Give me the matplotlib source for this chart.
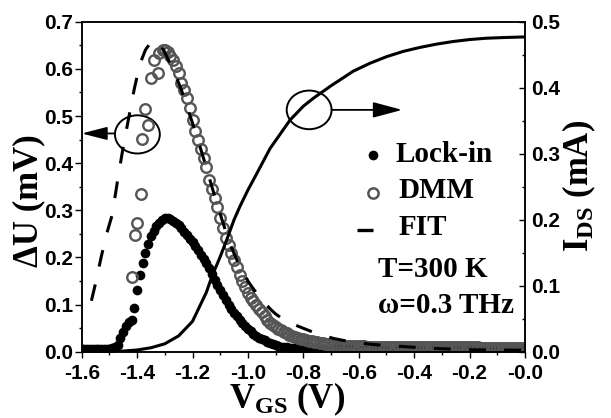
import numpy as np
import matplotlib.pyplot as plt
from matplotlib.patches import Ellipse

plt.rcParams['font.family'] = ['Liberation Sans', 'DejaVu Sans']
plt.rcParams['font.weight'] = 'bold'
plt.rcParams['axes.unicode_minus'] = False
plt.rcParams['mathtext.fontset'] = 'custom'
plt.rcParams['mathtext.rm'] = 'Liberation Serif:bold'
plt.rcParams['mathtext.bf'] = 'Liberation Serif:bold'
plt.rcParams['mathtext.it'] = 'Liberation Serif:italic:bold'

# lock-in signal, gate sweep -1.60 ... 0.00 V in 0.01 V steps
lock_v = np.round(np.arange(-1.60, 0.001, 0.01), 2)
lock_u = [0.005, 0.005, 0.005, 0.005, 0.005, 0.005, 0.005, 0.005, 0.005, 0.005,
          0.006, 0.007, 0.009, 0.015, 0.030, 0.042, 0.055, 0.062, 0.067, 0.092,
          0.130, 0.163, 0.188, 0.209, 0.228, 0.245, 0.257, 0.267, 0.274, 0.279,
          0.283, 0.283, 0.281, 0.278, 0.273, 0.268, 0.262, 0.255, 0.248, 0.240,
          0.232, 0.224, 0.215, 0.206, 0.197, 0.188, 0.177, 0.165, 0.153, 0.142,
          0.130, 0.120, 0.110, 0.100, 0.091, 0.082, 0.075, 0.068, 0.061, 0.055,
          0.049, 0.043, 0.038, 0.034, 0.030, 0.027, 0.024, 0.021, 0.018, 0.016,
          0.014, 0.012, 0.011, 0.010, 0.009, 0.008, 0.008, 0.007, 0.007, 0.007,
          0.006, 0.006, 0.006, 0.006, 0.005, 0.005, 0.005, 0.005, 0.005, 0.005,
          0.005, 0.005, 0.005, 0.005, 0.005, 0.005, 0.005, 0.005, 0.005, 0.005,
          0.004, 0.004, 0.004, 0.004, 0.004, 0.004, 0.004, 0.004, 0.004, 0.004,
          0.004, 0.004, 0.004, 0.004, 0.004, 0.004, 0.004, 0.004, 0.004, 0.004,
          0.004, 0.004, 0.004, 0.004, 0.004, 0.004, 0.004, 0.004, 0.004, 0.004,
          0.003, 0.003, 0.003, 0.003, 0.003, 0.003, 0.003, 0.003, 0.003, 0.003,
          0.003, 0.003, 0.003, 0.003, 0.003, 0.003, 0.003, 0.003, 0.003, 0.003,
          0.003, 0.003, 0.003, 0.003, 0.003, 0.003, 0.003, 0.003, 0.003, 0.003,
          0.003]

# DMM signal: scattered points on the rising edge, then 0.01 V steps from -1.30 V
dmm_rise_v = [-1.417, -1.409, -1.399, -1.386, -1.382, -1.370, -1.360, -1.351,
              -1.340, -1.326, -1.322, -1.306]
dmm_rise_u = [0.159, 0.248, 0.274, 0.335, 0.451, 0.515, 0.480, 0.581,
              0.619, 0.592, 0.633, 0.641]
dmm_fall_v = np.round(np.arange(-1.30, 0.001, 0.01), 2)
dmm_fall_u = [0.640, 0.636, 0.628, 0.618, 0.607, 0.592, 0.571, 0.555, 0.539, 0.518,
              0.492, 0.468, 0.449, 0.429, 0.410, 0.391, 0.364, 0.346, 0.326, 0.307,
              0.283, 0.262, 0.242, 0.226, 0.210, 0.195, 0.179, 0.163, 0.149, 0.138,
              0.125, 0.114, 0.107, 0.099, 0.091, 0.084, 0.076, 0.068, 0.060, 0.056,
              0.052, 0.049, 0.046, 0.042, 0.039, 0.036, 0.034, 0.032, 0.030, 0.028,
              0.026, 0.025, 0.023, 0.022, 0.021, 0.020, 0.019, 0.018, 0.017, 0.016,
              0.015, 0.014, 0.014, 0.013, 0.013, 0.013, 0.013, 0.012, 0.012, 0.012,
              0.012, 0.012, 0.012, 0.011, 0.011, 0.011, 0.011, 0.011, 0.011, 0.011,
              0.010, 0.010, 0.010, 0.010, 0.010, 0.010, 0.010, 0.010, 0.010, 0.010,
              0.010, 0.010, 0.010, 0.010, 0.010, 0.010, 0.009, 0.009, 0.009, 0.009,
              0.009, 0.009, 0.009, 0.009, 0.009, 0.009, 0.009, 0.009, 0.009, 0.009,
              0.009, 0.009, 0.009, 0.009, 0.008, 0.008, 0.008, 0.008, 0.008, 0.008,
              0.008, 0.008, 0.008, 0.008, 0.008, 0.008, 0.008, 0.008, 0.008, 0.008,
              0.008]

# fit curve
fit_v = [-1.565, -1.55, -1.53, -1.51, -1.49, -1.47, -1.45, -1.43, -1.41, -1.39,
         -1.37, -1.35, -1.335, -1.32, -1.30, -1.28, -1.26, -1.24, -1.22, -1.20,
         -1.18, -1.16, -1.14, -1.12, -1.10, -1.08, -1.06, -1.04, -1.02, -1.00,
         -0.98, -0.96, -0.94, -0.92, -0.90, -0.88, -0.85, -0.81, -0.75, -0.69,
         -0.63, -0.56, -0.50, -0.44, -0.38, -0.31, -0.25, -0.19, -0.10, 0.0]
fit_u = [0.108, 0.145, 0.200, 0.250, 0.290, 0.365, 0.435, 0.497, 0.558, 0.610,
         0.640, 0.657, 0.660, 0.655, 0.635, 0.610, 0.585, 0.555, 0.520, 0.485,
         0.448, 0.410, 0.370, 0.330, 0.292, 0.255, 0.222, 0.195, 0.171, 0.150,
         0.133, 0.118, 0.104, 0.091, 0.080, 0.072, 0.062, 0.052, 0.038, 0.028,
         0.021, 0.016, 0.013, 0.011, 0.0085, 0.0065, 0.005, 0.004, 0.0035, 0.003]

# drain current (right axis)
ids_v = [-1.55, -1.50, -1.45, -1.40, -1.35, -1.30, -1.25, -1.20, -1.15, -1.13,
         -1.10, -1.077, -1.05, -1.029, -1.00, -0.968, -0.92, -0.848, -0.80, -0.764,
         -0.70, -0.62, -0.56, -0.50, -0.44, -0.38, -0.32, -0.26, -0.20, -0.14,
         -0.08, 0.00]
ids_i = [0.0, 0.0005, 0.001, 0.0026, 0.006, 0.012, 0.024, 0.046, 0.090, 0.114,
         0.144, 0.169, 0.200, 0.220, 0.245, 0.270, 0.308, 0.351, 0.372, 0.384,
         0.403, 0.425, 0.437, 0.447, 0.455, 0.461, 0.466, 0.470, 0.473, 0.475,
         0.476, 0.477]

serif = 'Liberation Serif'

fig = plt.figure(figsize=(6.11, 4.18), dpi=100)
ax = fig.add_axes([0.1337, 0.1586, 0.7255, 0.7894])
ax2 = ax.twinx()

ax.plot(lock_v, lock_u, 'o', color='black', ms=7, mew=0)
ax.plot(dmm_rise_v, dmm_rise_u, 'o', mfc='none', mec='#555555', ms=7.6, mew=1.7)
ax.plot(dmm_fall_v, dmm_fall_u, 'o', mfc='none', mec='#555555', ms=7.6, mew=1.7)
ax.plot(fit_v, fit_u, color='black', lw=2.2, dashes=(5.5, 6))
ax2.plot(ids_v, ids_i, color='black', lw=2.2)

ax.set_xlim(-1.6, 0)
ax.set_ylim(0, 0.7)
ax2.set_ylim(0, 0.5)

xt = np.round(np.arange(-1.6, 0.01, 0.2), 1)
ax.set_xticks(xt)
ax.set_xticklabels(['%.1f' % v for v in xt])
ax.set_xticks(np.round(np.arange(-1.5, 0.0, 0.2), 1), minor=True)
yt = np.round(np.arange(0, 0.71, 0.1), 1)
ax.set_yticks(yt)
ax.set_yticklabels(['%.1f' % v for v in yt])
ax.set_yticks(np.round(np.arange(0.05, 0.7, 0.1), 2), minor=True)
yt2 = np.round(np.arange(0, 0.51, 0.1), 1)
ax2.set_yticks(yt2)
ax2.set_yticklabels(['%.1f' % v for v in yt2])
ax2.set_yticks(np.round(np.arange(0.05, 0.5, 0.1), 2), minor=True)

ax.tick_params(axis='y', which='major', direction='out', length=5, width=1, labelsize=15, pad=1.2)
ax.tick_params(axis='y', which='minor', direction='out', length=2.5, width=1)
ax.tick_params(axis='x', which='major', direction='out', length=4, width=1, labelsize=15, pad=4.5)
ax.tick_params(axis='x', which='minor', direction='out', length=2, width=1)
ax2.tick_params(axis='y', which='major', direction='in', length=4, width=1, labelsize=15, pad=4.5)
ax2.tick_params(axis='y', which='minor', direction='in', length=2.5, width=1)
for a in (ax, ax2):
    for s in a.spines.values():
        s.set_linewidth(1.1)

# circles and arrows pointing to the axes
ax.add_patch(Ellipse((-1.399, 0.461), 0.162, 0.081, fill=False, lw=1.4, ec='black'))
ax.add_patch(Ellipse((-0.779, 0.513), 0.162, 0.082, fill=False, lw=1.4, ec='black'))
ax.annotate('', xy=(-1.6, 0.463), xytext=(-1.480, 0.463),
            arrowprops=dict(arrowstyle='-|>,head_length=1.55,head_width=0.4',
                            mutation_scale=10, lw=1.3, color='black', shrinkA=0, shrinkB=0))
ax.annotate('', xy=(-0.443, 0.513), xytext=(-0.698, 0.513),
            arrowprops=dict(arrowstyle='-|>,head_length=1.8,head_width=0.48',
                            mutation_scale=10, lw=1.3, color='black', shrinkA=0, shrinkB=0))

# legend drawn by hand
ax.plot([0.6578], [0.5961], 'o', color='black', ms=7, mew=0, transform=ax.transAxes, clip_on=False)
ax.plot([0.6565], [0.48], 'o', mfc='none', mec='#555555', ms=7.4, mew=1.8, transform=ax.transAxes, clip_on=False)
ax.plot([0.6203, 0.6578], [0.3688, 0.3688], color='black', lw=2.4, solid_capstyle='butt', transform=ax.transAxes)
ax.text(0.7068, 0.5758, 'Lock-in', transform=ax.transAxes, fontsize=21, family=serif, weight='bold', va='baseline')
ax.text(0.7143, 0.4648, 'DMM', transform=ax.transAxes, fontsize=21, family=serif, weight='bold', va='baseline')
ax.text(0.7143, 0.3536, 'FIT', transform=ax.transAxes, fontsize=21, family=serif, weight='bold', va='baseline')
ax.text(0.669, 0.2273, 'T=300 K', transform=ax.transAxes, fontsize=21, family=serif, weight='bold', va='baseline')
ax.text(0.669, 0.1164, 'ω=0.3 THz', transform=ax.transAxes, fontsize=21, family=serif, weight='bold', va='baseline')

fig.text(286.7 / 611, 9.5 / 418, r'V$_{\rm GS}$ (V)', ha='center', va='baseline',
         fontsize=25, family=serif, weight='bold')
fig.text(28.5 / 611, 1 - 201 / 418, 'ΔU (mV)', rotation=90, ha='center', va='center',
         fontsize=25, family=serif, weight='bold')
fig.text(579.5 / 611, 1 - 185.5 / 418, r'I$_{\rm DS}$ (mA)', rotation=90, ha='center', va='center',
         fontsize=25, family=serif, weight='bold')

plt.savefig('out.png', dpi=100)
plt.close('all')
